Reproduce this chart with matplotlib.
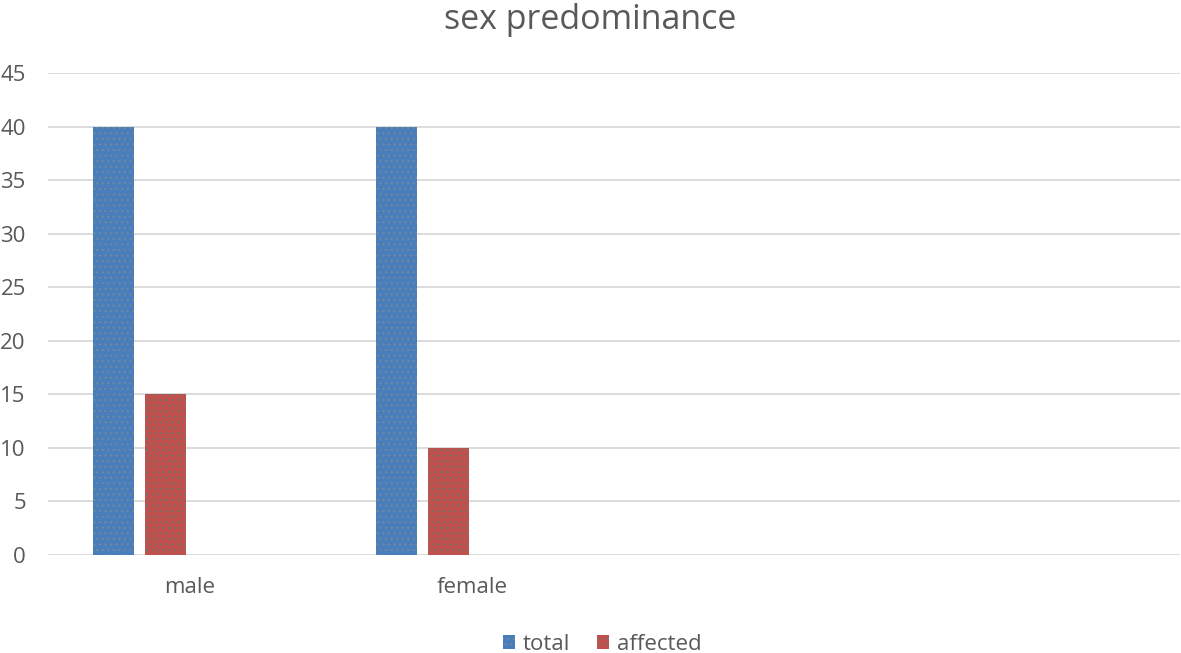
import matplotlib.pyplot as plt
import numpy as np

plt.rcParams['font.family'] = ['Open Sans', 'DejaVu Sans']
plt.rcParams['hatch.linewidth'] = 0.6

# data
categories = ["male", "female", "", ""]
total = [40, 40, np.nan, np.nan]
affected = [15, 10, np.nan, np.nan]
yticks = [0, 5, 10, 15, 20, 25, 30, 35, 40, 45]

text_color = "#595959"
blue = "#4a7ebb"
red = "#c0504d"

fig = plt.figure(figsize=(11.81, 6.53), dpi=100)
ax = fig.add_axes([48 / 1181, 98 / 653, 1132 / 1181, 482 / 653])

x = np.arange(len(categories))
w = 0.145
ax.bar(x - 0.268, total, width=w, color=blue, edgecolor="#7a8a9a",
       linewidth=0, hatch="...", label="total", zorder=3)
ax.bar(x - 0.085, affected, width=w, color=red, edgecolor="#6a7a6a",
       linewidth=0, hatch="...", label="affected", zorder=3)

ax.set_xlim(-0.5, len(categories) - 0.5)
ax.set_ylim(0, 45)
ax.set_yticks(yticks)
ax.set_xticks(x)
ax.set_xticklabels(categories)
ax.yaxis.grid(True, color="#d9d9d9", linewidth=1.3, zorder=0)
ax.set_axisbelow(True)
for s in ax.spines.values():
    s.set_visible(False)
ax.tick_params(axis="both", length=0, labelsize=16, colors=text_color)
ax.tick_params(axis="x", pad=16)
ax.tick_params(axis="y", pad=16)

fig.text(0.5, 0.995, "sex predominance", ha="center", va="top",
         fontsize=24.5, color=text_color)

ax.legend(loc="center", bbox_to_anchor=(0.4894, -0.1855), ncol=2,
          frameon=False, fontsize=16, labelcolor=text_color,
          handlelength=0.55, handleheight=0.55, handletextpad=0.35,
          columnspacing=1.2, borderpad=0.2)

plt.savefig("out.png", dpi=100)
